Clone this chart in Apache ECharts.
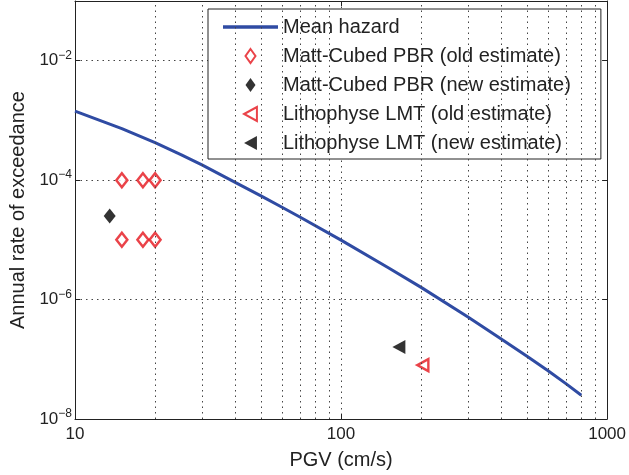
<!DOCTYPE html>
<html>
<head>
<meta charset="utf-8">
<script src="https://cdn.jsdelivr.net/npm/echarts@6/dist/echarts.min.js"></script>
<style>
    html, body { margin: 0; background: #fff; }
    #chart { width: 629px; height: 475px; }
</style>
</head>
<body>
<div id="chart"></div>
<script>
// mean hazard curve
const hazardPGV = [10, 15, 20, 25, 30, 40, 50, 60, 70, 100, 150, 200, 300, 400, 500, 600, 700, 800]
const hazardRate = [1.43e-3, 7.3e-4, 4.25e-4, 2.68e-4, 1.8e-4, 9.2e-5, 5.45e-5, 3.52e-5, 2.41e-5, 9.9e-6, 3.44e-6, 1.6e-6, 5.09e-7, 2.18e-7, 1.12e-7, 6.43e-8, 3.91e-8, 2.5e-8]

// Matt-Cubed PBR
const pbrOldPGV = [15, 18, 20, 15, 18, 20]
const pbrOldRate = [1e-4, 1e-4, 1e-4, 1e-5, 1e-5, 1e-5]
const pbrNewPGV = [13.5]
const pbrNewRate = [2.5e-5]

// Lithophyse LMT
const lmtOldPGV = [203]
const lmtOldRate = [8e-8]
const lmtNewPGV = [165]
const lmtNewRate = [1.6e-7]

// minor grid lines (matlab style log grid)
const minorPGV = [20, 30, 40, 50, 60, 70, 80, 90, 200, 300, 400, 500, 600, 700, 800, 900]

const FONT = 'Liberation Sans, Arial, Helvetica, sans-serif'
const RED = '#e5141b'
const BLUE = '#2f4ba3'
const INK = '#222'
const gridDots = { color: '#444', width: 1, type: [1.5, 4] }

const DIAMOND = 'path://M5,0L10,7L5,14L0,7Z'
const LEFT_TRI = 'path://M0,6L11,0L11,12Z'

const pairs = (xs, ys) => xs.map((x, i) => [x, ys[i]])

const supLabel = v => {
    const e = Math.round(Math.log10(v))
    if (e % 2 !== 0) return ''
    return '{b|10}{s|' + (e < 0 ? '\u2212' + (-e) : e) + '}'
}

const chart = echarts.init(document.getElementById('chart'))

const option = {
    animation: false,
    textStyle: { fontFamily: FONT },
    grid: { left: 73, right: 21, top: 1, bottom: 55 },
    legend: {
        orient: 'vertical',
        left: 208,
        top: 9,
        padding: [8, 30, 6, 15],
        borderColor: INK,
        borderWidth: 1,
        backgroundColor: '#fff',
        itemWidth: 55,
        itemHeight: 14,
        itemGap: 9,
        symbolKeepAspect: true,
        symbolRotate: 0,
        textStyle: { fontSize: 20, color: INK, lineHeight: 18, fontFamily: FONT },
        data: [
            { name: 'Mean hazard', icon: 'path://M0,0H50V3H0Z' },
            { name: 'Matt-Cubed PBR (old estimate)', icon: DIAMOND },
            { name: 'Matt-Cubed PBR (new estimate)', icon: DIAMOND },
            { name: 'Lithophyse LMT (old estimate)', icon: LEFT_TRI },
            { name: 'Lithophyse LMT (new estimate)', icon: LEFT_TRI }
        ]
    },
    xAxis: [
        {
            type: 'log',
            logBase: 10,
            min: 10,
            max: 1000,
            interval: 1,
            name: 'PGV (cm/s)',
            nameLocation: 'middle',
            nameGap: 31,
            nameTextStyle: { fontSize: 20, color: INK },
            axisLine: { lineStyle: { color: INK, width: 1 } },
            axisTick: { inside: true, length: 5, lineStyle: { color: INK } },
            axisLabel: { fontSize: 17, color: INK, margin: 7, showMaxLabel: true, showMinLabel: true, formatter: v => String(Math.round(v)) },
            splitLine: { show: true, lineStyle: gridDots }
        },
        {
            type: 'log',
            logBase: 10,
            min: 10,
            max: 1000,
            interval: 1,
            position: 'top',
            axisLine: { lineStyle: { color: INK, width: 1 } },
            axisTick: { inside: true, length: 5, lineStyle: { color: INK } },
            axisLabel: { show: false },
            splitLine: { show: false }
        }
    ],
    yAxis: [
        {
            type: 'log',
            logBase: 10,
            min: 1e-8,
            max: 1e-1,
            interval: 2,
            name: 'Annual rate of exceedance',
            nameLocation: 'middle',
            nameGap: 47,
            nameTextStyle: { fontSize: 20, color: INK },
            axisLine: { lineStyle: { color: INK, width: 1 } },
            axisTick: { inside: true, length: 5, lineStyle: { color: INK } },
            axisLabel: {
                margin: 3,
                formatter: supLabel,
                rich: {
                    b: { fontSize: 17, color: INK, fontFamily: FONT },
                    s: { fontSize: 12, color: INK, fontFamily: FONT, padding: [0, 0, 10, 0] }
                }
            },
            splitLine: { show: true, lineStyle: gridDots }
        },
        {
            type: 'log',
            logBase: 10,
            min: 1e-8,
            max: 1e-1,
            interval: 2,
            position: 'right',
            axisLine: { lineStyle: { color: INK, width: 1 } },
            axisTick: { inside: true, length: 5, lineStyle: { color: INK } },
            axisLabel: { show: false },
            splitLine: { show: false }
        }
    ],
    series: [
        {
            name: 'minor grid',
            type: 'line',
            data: [],
            silent: true,
            z: 1,
            markLine: {
                silent: true,
                symbol: 'none',
                label: { show: false },
                lineStyle: gridDots,
                data: minorPGV.map(v => ({ xAxis: v }))
            }
        },
        {
            name: 'Mean hazard',
            type: 'line',
            data: pairs(hazardPGV, hazardRate),
            showSymbol: false,
            symbol: 'none',
            lineStyle: { color: BLUE, width: 3 },
            itemStyle: { color: BLUE },
            z: 3
        },
        {
            name: 'Matt-Cubed PBR (old estimate)',
            type: 'scatter',
            data: pairs(pbrOldPGV, pbrOldRate),
            symbol: 'diamond',
            symbolSize: [11, 14],
            itemStyle: { color: '#fff', borderColor: RED, borderWidth: 2.5 },
            z: 4
        },
        {
            name: 'Matt-Cubed PBR (new estimate)',
            type: 'scatter',
            data: pairs(pbrNewPGV, pbrNewRate),
            symbol: 'diamond',
            symbolSize: [12, 15],
            itemStyle: { color: '#000' },
            z: 4
        },
        {
            name: 'Lithophyse LMT (old estimate)',
            type: 'scatter',
            data: pairs(lmtOldPGV, lmtOldRate),
            symbol: 'triangle',
            symbolRotate: 90,
            symbolSize: [12, 11],
            itemStyle: { color: '#fff', borderColor: RED, borderWidth: 2.5 },
            z: 4
        },
        {
            name: 'Lithophyse LMT (new estimate)',
            type: 'scatter',
            data: pairs(lmtNewPGV, lmtNewRate),
            symbol: 'triangle',
            symbolRotate: 90,
            symbolSize: [14, 13],
            itemStyle: { color: '#000' },
            z: 4
        }
    ]
}

chart.setOption(option)
</script>
</body>
</html>
